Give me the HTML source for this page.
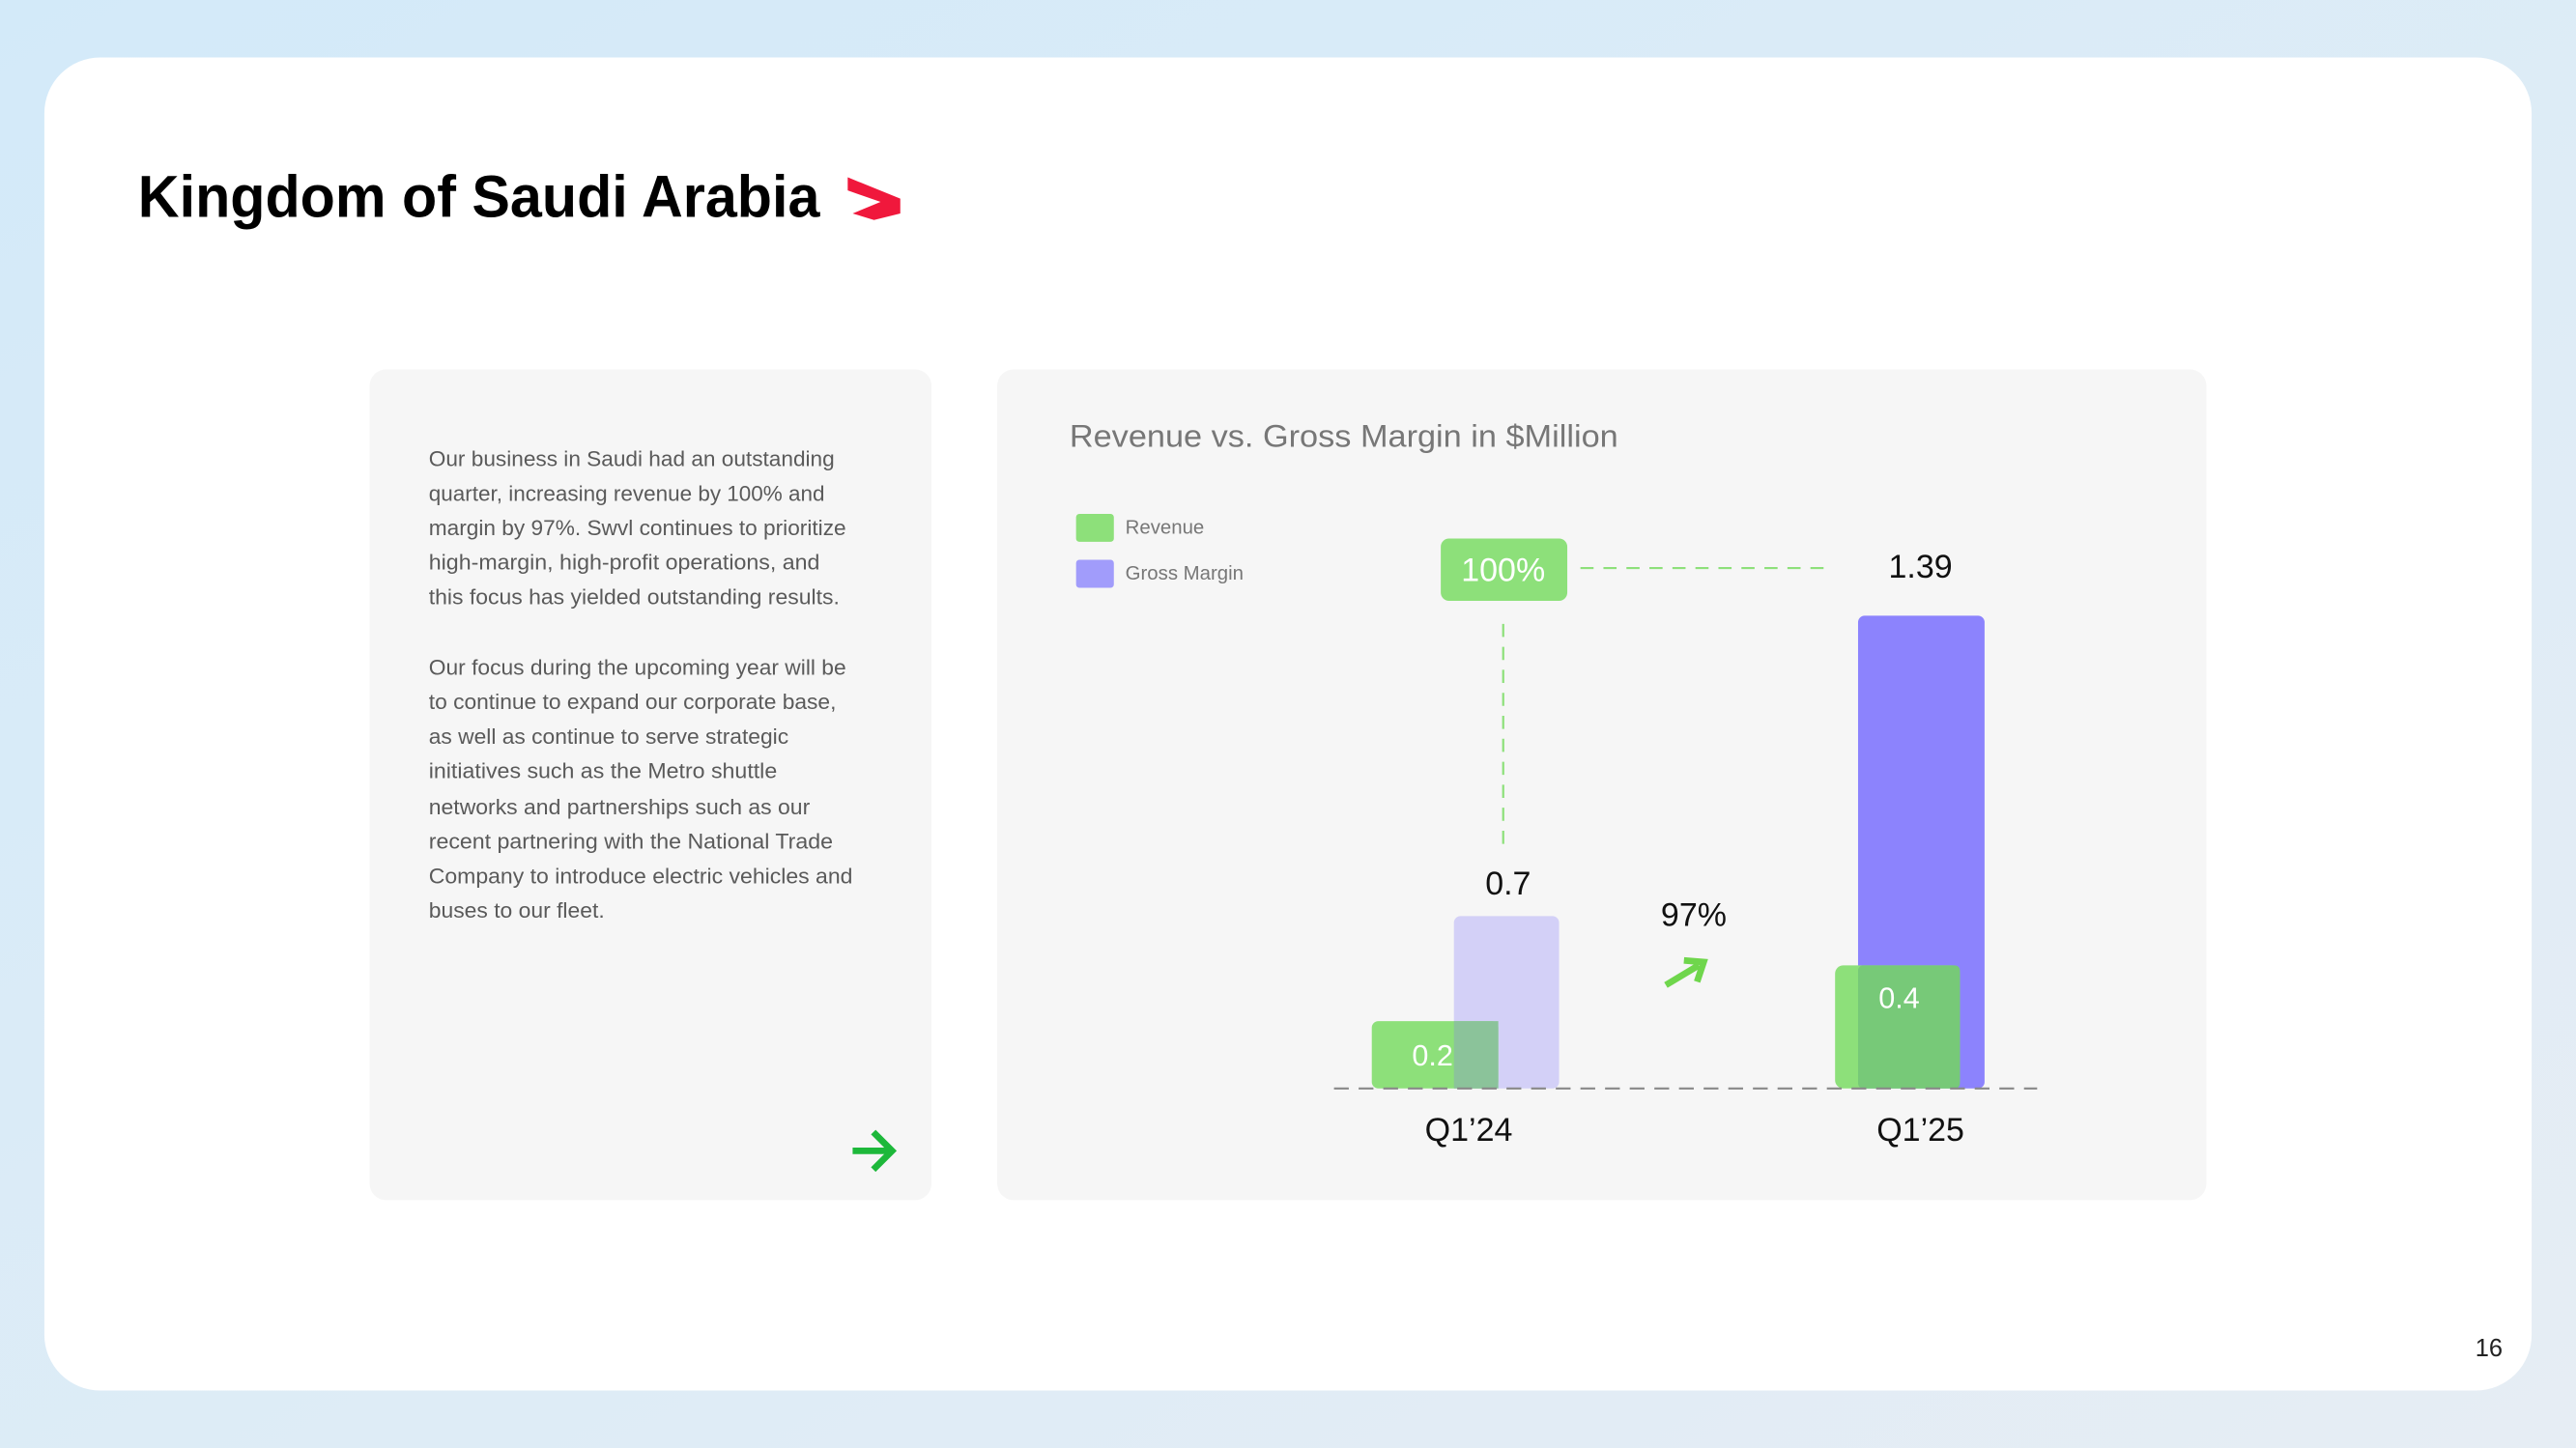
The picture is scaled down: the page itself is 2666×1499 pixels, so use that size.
<!DOCTYPE html>
<html><head><meta charset="utf-8"><style>
html,body{margin:0;padding:0;width:2666px;height:1499px;overflow:hidden;background:#d9ebf7}
svg{display:block}
text{font-family:"Liberation Sans",sans-serif}
</style></head><body>
<svg width="2666" height="1499" viewBox="0 0 1568 882" preserveAspectRatio="none" xmlns="http://www.w3.org/2000/svg">
<defs><linearGradient id="bg" x1="0" y1="0" x2="1" y2="1"><stop offset="0" stop-color="#d3eaf9"/><stop offset="1" stop-color="#e6edf4"/></linearGradient></defs>
<rect width="1568" height="882" fill="url(#bg)"/>
<rect x="27" y="35" width="1514" height="812" rx="34" fill="#fff"/>
<text x="84" y="132" font-size="36" font-weight="bold" fill="#000" textLength="415" lengthAdjust="spacingAndGlyphs">Kingdom of Saudi Arabia</text>
<polygon points="516,108 548,121 548,130 532,134 519,130 536,123 516,116" fill="#f0183c"/>
<rect x="225" y="225" width="342" height="506" rx="10" fill="#f6f6f6"/>
<g font-size="13" fill="#5a5a5a">
<text x="261" y="284" textLength="247" lengthAdjust="spacingAndGlyphs">Our business in Saudi had an outstanding</text>
<text x="261" y="305" textLength="241" lengthAdjust="spacingAndGlyphs">quarter, increasing revenue by 100% and</text>
<text x="261" y="326" textLength="254" lengthAdjust="spacingAndGlyphs">margin by 97%. Swvl continues to prioritize</text>
<text x="261" y="347" textLength="238" lengthAdjust="spacingAndGlyphs">high-margin, high-profit operations, and</text>
<text x="261" y="368" textLength="250" lengthAdjust="spacingAndGlyphs">this focus has yielded outstanding results.</text>
<text x="261" y="411" textLength="254" lengthAdjust="spacingAndGlyphs">Our focus during the upcoming year will be</text>
<text x="261" y="432" textLength="248" lengthAdjust="spacingAndGlyphs">to continue to expand our corporate base,</text>
<text x="261" y="453" textLength="219" lengthAdjust="spacingAndGlyphs">as well as continue to serve strategic</text>
<text x="261" y="474" textLength="212" lengthAdjust="spacingAndGlyphs">initiatives such as the Metro shuttle</text>
<text x="261" y="496" textLength="232" lengthAdjust="spacingAndGlyphs">networks and partnerships such as our</text>
<text x="261" y="517" textLength="246" lengthAdjust="spacingAndGlyphs">recent partnering with the National Trade</text>
<text x="261" y="538" textLength="258" lengthAdjust="spacingAndGlyphs">Company to introduce electric vehicles and</text>
<text x="261" y="559" textLength="107" lengthAdjust="spacingAndGlyphs">buses to our fleet.</text>
</g>
<g stroke="#1db83a" stroke-width="4" fill="none" stroke-linecap="square"><line x1="521" y1="701" x2="541" y2="701"/><polyline points="533,691 543,701 533,711"/></g>
<rect x="607" y="225" width="736" height="506" rx="10" fill="#f6f6f6"/>
<text x="651" y="272" font-size="19" fill="#777" textLength="334" lengthAdjust="spacingAndGlyphs">Revenue vs. Gross Margin in $Million</text>
<rect x="655" y="313" width="23" height="17" rx="2" fill="#8de07a"/>
<text x="685" y="325" font-size="12" fill="#777">Revenue</text>
<rect x="655" y="341" width="23" height="17" rx="2" fill="#a19cfb"/>
<text x="685" y="353" font-size="12" fill="#777">Gross Margin</text>
<rect x="877" y="328" width="77" height="38" rx="5" fill="#8de07a"/>
<text x="915" y="354" font-size="20" fill="#fff" text-anchor="middle">100%</text>
<line x1="962" y1="346" x2="1110" y2="346" stroke="#8de07a" stroke-width="1.3" stroke-dasharray="8,6"/>
<line x1="915" y1="380" x2="915" y2="515" stroke="#8de07a" stroke-width="1.3" stroke-dasharray="8,6"/>
<text x="1169" y="352" font-size="20" fill="#111" text-anchor="middle">1.39</text>
<text x="918" y="545" font-size="20" fill="#111" text-anchor="middle">0.7</text>
<text x="1031" y="564" font-size="20" fill="#111" text-anchor="middle">97%</text>
<g stroke="#6fd64c" stroke-width="4" fill="none"><line x1="1014" y1="600" x2="1034" y2="588"/><polyline points="1025,585 1037,586 1033,598"/></g>
<rect x="885" y="558" width="64" height="105" rx="4" fill="#d3d0f7"/>
<rect x="835" y="622" width="77" height="41" rx="4" fill="#8de07a"/>
<rect x="885" y="622" width="27" height="41" fill="#8bc39a"/>
<text x="872" y="649" font-size="18" fill="#fff" text-anchor="middle">0.2</text>
<rect x="1131" y="375" width="77" height="288" rx="4" fill="#8c83fd"/>
<rect x="1117" y="588" width="76" height="75" rx="5" fill="#8de07a"/>
<rect x="1131" y="588" width="62" height="75" rx="3" fill="#77c978"/>
<text x="1156" y="614" font-size="18" fill="#fff" text-anchor="middle">0.4</text>
<line x1="812" y1="663" x2="1240" y2="663" stroke="#888" stroke-width="1.3" stroke-dasharray="9,6"/>
<text x="894" y="695" font-size="20" fill="#111" text-anchor="middle">Q1’24</text>
<text x="1169" y="695" font-size="20" fill="#111" text-anchor="middle">Q1’25</text>
<text x="1515" y="826" font-size="15" fill="#222" text-anchor="middle">16</text>
</svg>
</body></html>
